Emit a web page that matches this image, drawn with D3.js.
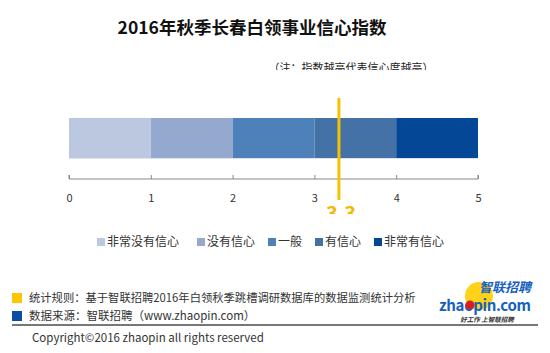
<!DOCTYPE html>
<html><head><meta charset="utf-8">
<script src="https://cdn.jsdelivr.net/npm/d3@7"></script>
<style>body{margin:0;background:#fff}svg{display:block}text{font-family:"Noto Sans CJK SC","Microsoft YaHei",sans-serif}</style>
</head><body>
<svg id="c" width="550" height="353"></svg>
<script>
const categories = ["非常没有信心","没有信心","一般","有信心","非常有信心"];
const segmentStarts = [0,1,2,3,4];
const segmentEnds = [1,2,3,4,5];
const colors = ["#BCC8E0","#95A9CF","#4E80BA","#4471A6","#044797"];
const indexValue = 3.30;
const ticks = [0,1,2,3,4,5];
const title = "2016年秋季长春白领事业信心指数";
const note = "（注：指数越高代表信心度越高）";
const footRule = "统计规则：基于智联招聘2016年白领秋季跳槽调研数据库的数据监测统计分析";
const footSource = "数据来源：智联招聘（www.zhaopin.com）";
const copyright = "Copyright©2016 zhaopin all rights reserved";

const svg = d3.select("#c");
const x = d3.scaleLinear().domain([0,5]).range([69,478]);
const defs = svg.append("defs");

svg.append("text").attr("x",252).attr("y",34).attr("text-anchor","middle")
  .attr("font-size",17.5).attr("font-weight","bold").attr("fill","#111").text(title);

defs.append("clipPath").attr("id","noteClip").append("rect").attr("x",0).attr("y",55).attr("width",550).attr("height",15);
svg.append("text").attr("x",351).attr("y",72).attr("text-anchor","middle")
  .attr("font-size",11).attr("fill","#222").attr("clip-path","url(#noteClip)").text(note);

// bars
svg.selectAll("rect.seg").data(categories).join("rect").attr("class","seg")
  .attr("x",(d,i)=>x(segmentStarts[i])).attr("width",(d,i)=>x(segmentEnds[i])-x(segmentStarts[i]))
  .attr("y",118).attr("height",40).attr("fill",(d,i)=>colors[i]);
svg.append("line").attr("x1",x(0)).attr("x2",x(5)).attr("y1",158.5).attr("y2",158.5).attr("stroke","#dde3ee").attr("stroke-width",1);

// axis
const ax = svg.append("g").attr("transform","translate(0,179)")
  .call(d3.axisBottom(x).tickValues(ticks).tickSize(-4).tickPadding(10).tickFormat(d3.format("d")));
ax.select(".domain").attr("stroke","#888").attr("d",`M${x(0)},-4V0H${x(5)}V-4`);
ax.selectAll(".tick line").attr("stroke","#888");
ax.selectAll(".tick text").attr("font-size",11).attr("fill","#333").attr("font-family","DejaVu Sans, sans-serif")
  .attr("y",19).attr("dy","0.35em");

// index line
svg.append("line").attr("x1",x(indexValue)).attr("x2",x(indexValue)).attr("y1",98).attr("y2",200)
  .attr("stroke","#F5C200").attr("stroke-width",3);
defs.append("clipPath").attr("id","valClip").append("rect").attr("x",0).attr("y",205).attr("width",550).attr("height",9);
svg.append("text").attr("x",x(indexValue)+2).attr("y",221).attr("text-anchor","middle")
  .attr("font-size",20).attr("font-weight","bold").attr("fill","#F5B800").attr("clip-path","url(#valClip)")
  .attr("font-family","DejaVu Sans, sans-serif").text(indexValue.toFixed(1));

// legend
const legX = [97,197,268,315,374];
const leg = svg.selectAll("g.leg").data(categories).join("g").attr("class","leg")
  .attr("transform",(d,i)=>`translate(${legX[i]},242)`);
leg.append("rect").attr("x",0).attr("y",-4).attr("width",8).attr("height",8).attr("fill",(d,i)=>colors[i]);
leg.append("text").attr("x",10).attr("y",0).attr("dy","0.36em").attr("font-size",12).attr("fill","#333").text(d=>d);

// footer
svg.append("rect").attr("x",12).attr("y",293).attr("width",10).attr("height",10).attr("fill","#FFC600");
svg.append("rect").attr("x",12).attr("y",311).attr("width",10).attr("height",10).attr("fill","#0A4DA2");
svg.append("text").attr("x",29).attr("y",298).attr("dy","0.36em").attr("font-size",11.3).attr("fill","#333").text(footRule);
svg.append("text").attr("x",29).attr("y",316).attr("dy","0.36em").attr("font-size",11.5).attr("fill","#333").text(footSource);
svg.append("line").attr("x1",12).attr("x2",538).attr("y1",325).attr("y2",325).attr("stroke","#777").attr("stroke-width",2);
svg.append("text").attr("x",32).attr("y",338).attr("dy","0.36em").attr("font-size",11.5).attr("fill","#333")
  .attr("font-family","Open Sans, DejaVu Sans, sans-serif").text(copyright);

// logo
svg.append("circle").attr("cx",479).attr("cy",296).attr("r",14).attr("fill","#FFD21A");
svg.append("text").attr("x",505).attr("y",291.5).attr("text-anchor","middle").attr("font-size",13).attr("font-weight","bold")
  .attr("font-style","italic").attr("fill","#1560C0").text("智联招聘");
svg.append("text").attr("x",485).attr("y",311).attr("text-anchor","middle").attr("font-size",15).attr("font-weight","bold")
  .attr("font-family","DejaVu Sans, sans-serif").attr("fill","#1560C0").attr("textLength",92).text("zhaopin.com");
svg.append("circle").attr("cx",470).attr("cy",305).attr("r",4.5).attr("fill","#D42020");
svg.append("text").attr("x",487).attr("y",321.5).attr("text-anchor","middle").attr("font-size",6.5).attr("font-weight","bold")
  .attr("font-style","italic").attr("fill","#333").text("好工作  上智联招聘");
</script>
</body></html>
